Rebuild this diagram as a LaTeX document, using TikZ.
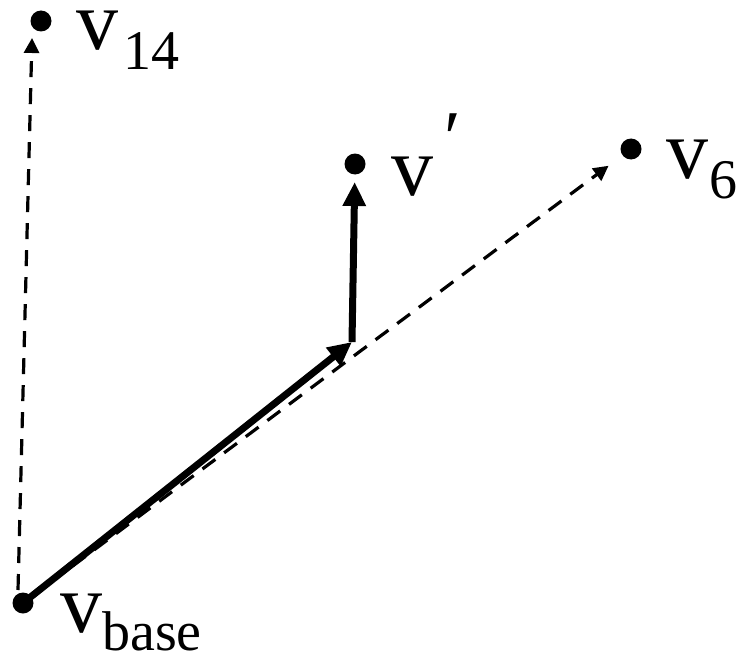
\documentclass[tikz,border=0pt]{standalone}
\usepackage{fontspec}
\setmainfont{Liberation Serif}
\usetikzlibrary{arrows.meta}
\tikzset{
  dotnode/.style={circle,fill=black,inner sep=0pt,minimum size=21pt},
  bigtxt/.style={inner sep=0pt,anchor=base west,text height=0.47em,text depth=0pt,font=\fontsize{84}{84}\selectfont},
  subtxt/.style={inner sep=0pt,anchor=base west,text height=0.7em,text depth=0pt,font=\fontsize{56}{56}\selectfont},
  primetxt/.style={inner sep=0pt,anchor=base west,font=\fontsize{76}{76}\selectfont},
  thickarrow/.style={line width=7pt,-{Triangle[length=24pt,width=22pt]}},
  dasharrow/.style={line width=3.2pt,dash pattern=on 16pt off 11pt,-{Triangle[length=15pt,width=15pt]}}
}
\begin{document}
\begin{tikzpicture}[x=1pt,y=-1pt]
\useasboundingbox (0,0) rectangle (736,658);
% points
\node[dotnode] (v14) at (41,21) {};
\node[dotnode] (vp) at (355,164) {};
\node[dotnode] (v6) at (631,149) {};
\node[dotnode] (vb) at (23,603) {};
\coordinate (m) at (352,342);
\coordinate (a14) at (18,590);
\coordinate (t14) at (32,38);
% labels
\node[bigtxt] (l14) at (76,50) {v};
\node[subtxt] (s14) at (123,70) {14};
\node[bigtxt] (lp) at (391,195) {v};
\node[primetxt] (pp) at (444,164) {′};
\node[bigtxt] (l6) at (666,178) {v};
\node[subtxt] (s6) at (709,198) {6};
\node[bigtxt] (lb) at (60,632) {v};
\node[subtxt] (sb) at (102,650) {base};
% connectors
\draw[dasharrow] (a14) -- (t14);
\draw[dasharrow,shorten <=8pt,shorten >=28pt] (vb.center) -- (v6.center);
\draw[thickarrow] (vb.center) -- (m);
\draw[thickarrow,line cap=butt,shorten >=18pt] (m) -- (vp.center);
\end{tikzpicture}
\end{document}
